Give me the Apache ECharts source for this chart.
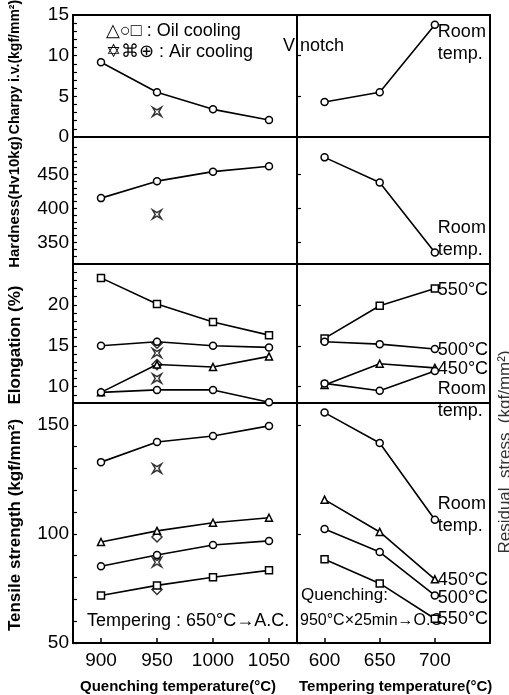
<!DOCTYPE html>
<html>
<head>
<meta charset="utf-8">
<script src="https://cdn.jsdelivr.net/npm/echarts@6/dist/echarts.min.js"></script>
<style>
  html, body { margin: 0; padding: 0; background: #fff; }
  #chart { width: 509px; height: 695px; }
</style>
</head>
<body>
<div id="chart"></div>
<script>
// x values
const quenchTemp = [900, 950, 1000, 1050];
const temperTemp = [600, 650, 700];

// Charpy i.v. (kgf/mm2)
const charpyOil = [9.2, 5.5, 3.4, 2.1];
const charpyAir = [3.1];          // at 950
const charpyRoom = [4.3, 5.5, 13.8];

// Hardness Hv10kg
const hardOil = [415, 440, 454, 462];
const hardAir = [391];
const hardRoom = [475, 438, 335];

// Elongation (%)
const elongSq = [23.3, 20.1, 17.9, 16.3];
const elongCirc = [15.0, 15.5, 15.0, 14.8];
const elongTri = [9.3, 12.7, 12.4, 13.7];
const elongCircLow = [9.3, 9.6, 9.6, 8.1];
const elongAirStar = [14.1, 11.0];
const elongAirDia = [15.3, 12.7];
const elong550 = [15.9, 19.9, 22.0];
const elong500 = [15.5, 15.2, 14.6];
const elong450 = [10.2, 12.8, 12.3];
const elongRoom = [10.4, 9.5, 11.9];

// Tensile strength (kgf/mm2)
const tsCirc = [132.9, 142.1, 144.9, 149.5];
const tsTri = [96.3, 101.4, 105.1, 107.4];
const tsCircLow = [85.2, 90.3, 94.9, 96.8];
const tsSq = [71.8, 76.4, 80.1, 83.3];
const tsAirStar = [130, 87];
const tsAirDia = [98.6, 74.5];
const tsRoom = [155.6, 141.7, 106.5];
const ts450 = [115.7, 100.9, 79.2];
const ts500 = [102.3, 91.7, 71.8];
const ts550 = [88.4, 77.3, 61.1];

// tick labels
const charpyTicks = [0, 5, 10, 15];
const hardTicks = [350, 400, 450];
const elongTicks = [10, 15, 20];
const tsTicks = [50, 100, 150];
const tsMinor = [60, 70, 80, 90, 110, 120, 130, 140];

const FONT = "'Liberation Sans', Arial, sans-serif";
const AIR = 'path://M0,0 L5,3 L10,0 L7,5 L10,10 L5,7 L0,10 L3,5 Z';

const rows = [
    { top: 15, height: 122 },
    { top: 137, height: 127 },
    { top: 264, height: 139 },
    { top: 403, height: 240 }
]

const grids = []
rows.forEach(r => {
    grids.push({ left: 73, width: 224, top: r.top, height: r.height, show: true, borderColor: '#000', borderWidth: 2 })
    grids.push({ left: 297, width: 193, top: r.top, height: r.height, show: true, borderColor: '#000', borderWidth: 2 })
})

const xAxes = []
for (let i = 0; i < 8; i++) {
    const left = i % 2 === 0
    const bottom = i >= 6
    xAxes.push({
        type: 'value', gridIndex: i,
        min: left ? 875 : 575, max: left ? 1075 : 750,
        splitLine: { show: false },
        axisLine: { show: false },
        axisTick: { show: bottom, inside: true, length: 5, lineStyle: { color: '#000', width: 1.5 },
            customValues: left ? quenchTemp : temperTemp },
        axisLabel: { show: bottom, color: '#000', fontSize: 19, fontFamily: FONT, margin: 8,
            customValues: left ? quenchTemp : temperTemp, formatter: v => String(v) }
    })
}

const yDefs = [
    { min: 0, max: 15, labels: charpyTicks, ticks: [1,2,3,4,5,6,7,8,9,10,11,12,13,14] },
    { min: 318, max: 505, labels: hardTicks, ticks: [330,340,350,360,370,380,390,400,410,420,430,440,450,460,470,480,490] },
    { min: 8, max: 25, labels: elongTicks, ticks: [9,10,11,12,13,14,15,16,17,18,19,20,21,22,23,24] },
    { min: 50, max: 160, labels: tsTicks, ticks: tsTicks.concat(tsMinor) }
]

const yAxes = []
yDefs.forEach((d, r) => {
    for (let c = 0; c < 2; c++) {
        yAxes.push({
            type: 'value', gridIndex: r * 2 + c, min: d.min, max: d.max,
            splitLine: { show: false },
            axisLine: { show: false },
            axisTick: { show: true, inside: true, length: 4, lineStyle: { color: '#000', width: 1.2 }, customValues: c === 0 ? d.ticks : d.labels },
            axisLabel: { show: c === 0, color: '#000', fontSize: 19, fontFamily: FONT, margin: 4, customValues: d.labels }
        })
    }
})

function pts(xs, ys) {
    return ys.map((v, i) => [xs[i], v])
}

function line(grid, xs, ys, symbol, endText, offset) {
    const s = {
        type: 'line', xAxisIndex: grid, yAxisIndex: grid,
        data: pts(xs, ys),
        symbol: symbol, symbolSize: 7, showAllSymbol: true,
        itemStyle: { color: '#fff', borderColor: '#000', borderWidth: 1.5 },
        lineStyle: { color: '#000', width: 1.6 },
        silent: true, animation: false
    }
    if (endText) {
        s.endLabel = { show: true, formatter: endText, offset: offset || [0, 0], distance: 3,
            color: '#000', fontSize: 18, fontFamily: FONT, lineHeight: 22, align: 'left' }
    }
    return s
}

function dots(grid, x, ys, symbol, size) {
    return {
        type: 'scatter', xAxisIndex: grid, yAxisIndex: grid,
        data: ys.map(v => [x, v]),
        symbol: symbol, symbolSize: size || 9,
        itemStyle: { color: '#fff', borderColor: '#000', borderWidth: 1.5 },
        silent: true, animation: false
    }
}

const series = [
    line(0, quenchTemp, charpyOil, 'circle'),
    dots(0, 950, charpyAir, AIR),
    line(1, temperTemp, charpyRoom, 'circle', 'Room\ntemp.', [0, 18]),

    line(2, quenchTemp, hardOil, 'circle'),
    dots(2, 950, hardAir, AIR),
    line(3, temperTemp, hardRoom, 'circle', 'Room\ntemp.', [0, -13]),

    line(4, quenchTemp, elongSq, 'rect'),
    line(4, quenchTemp, elongCirc, 'circle'),
    line(4, quenchTemp, elongTri, 'triangle'),
    line(4, quenchTemp, elongCircLow, 'circle'),
    dots(4, 950, elongAirStar, AIR),
    dots(4, 950, elongAirDia, 'diamond', 10),
    line(5, temperTemp, elong550, 'rect', '550°C', [0, 2]),
    line(5, temperTemp, elong500, 'circle', '500°C', [0, 1]),
    line(5, temperTemp, elong450, 'triangle', '450°C', [0, 1]),
    line(5, temperTemp, elongRoom, 'circle', 'Room\ntemp.', [0, 29]),

    line(6, quenchTemp, tsCirc, 'circle'),
    line(6, quenchTemp, tsTri, 'triangle'),
    line(6, quenchTemp, tsCircLow, 'circle'),
    line(6, quenchTemp, tsSq, 'rect'),
    dots(6, 950, tsAirStar, AIR),
    dots(6, 950, tsAirDia, 'diamond', 10),
    line(7, temperTemp, tsRoom, 'circle', 'Room\ntemp.', [0, -5]),
    line(7, temperTemp, ts450, 'triangle', '450°C', [0, 1]),
    line(7, temperTemp, ts500, 'circle', '500°C', [0, 3]),
    line(7, temperTemp, ts550, 'rect', '550°C', [0, 0])
]

const txt = (x, y, s, size, weight) => ({
    type: 'text', left: x, top: y, silent: true,
    style: { text: s, fill: '#000', font: (weight || '') + ' ' + (size || 18) + 'px ' + FONT }
})

// rotated axis titles, centred on (x, y)
const vtxt = (x, y, s, size, weight, color) => ({
    type: 'text', x: x, y: y, rotation: Math.PI / 2, silent: true,
    style: { text: s, fill: color || '#000', font: (weight || 'bold') + ' ' + size + 'px ' + FONT, align: 'center', verticalAlign: 'middle' }
})

const option = {
    backgroundColor: '#fff',
    animation: false,
    grid: grids,
    xAxis: xAxes,
    yAxis: yAxes,
    series: series,
    graphic: [
        txt(106, 22, '△○□ : Oil cooling', 18),
        txt(106, 43, '✡⌘⊕ : Air cooling', 18),
        txt(283, 37, 'V', 18),
        txt(300, 37, 'notch', 18),
        txt(87, 612, 'Tempering : 650°C→A.C.', 18),
        txt(301, 587, 'Quenching:', 17),
        txt(300, 613, '950°C×25min→O.C.', 16),
        txt(80, 679, 'Quenching temperature(°C)', 15, 'bold'),
        txt(299, 679, 'Tempering temperature(°C)', 15, 'bold'),
        vtxt(15, 67, 'Charpy i.v.(kgf/mm²)', 14),
        vtxt(15, 202, 'Hardness(Hv10kg)', 15),
        vtxt(15, 345, 'Elongation (%)', 17),
        vtxt(15, 525, 'Tensile strength (kgf/mm²)', 17),
        vtxt(505, 452, 'Residual  stress  (kgf/mm²)', 17, 'normal', '#333')
    ]
}

const chart = echarts.init(document.getElementById('chart'))
chart.setOption(option)
</script>
</body>
</html>
